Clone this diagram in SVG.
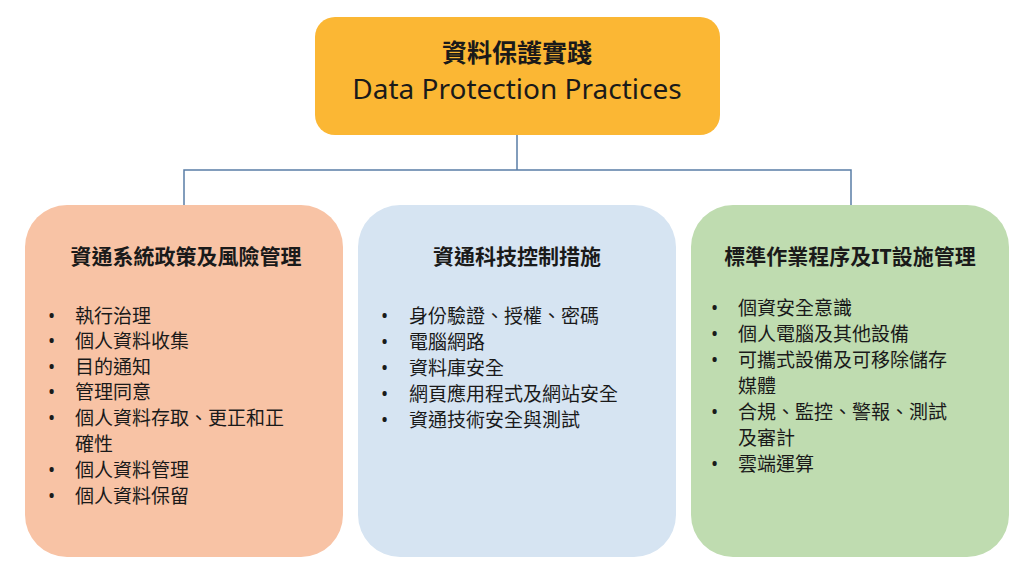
<svg xmlns="http://www.w3.org/2000/svg" width="1032" height="583" viewBox="0 0 1032 583">
<style>
text{font-family:"Noto Sans","Noto Sans CJK TC",sans-serif;fill:#1a1a1a}
.h{font-size:21px;font-weight:bold;text-anchor:middle}
.b{font-size:19px}
.c{stroke:#5a7ea6;stroke-width:1.5;fill:none}
</style>
<rect width="1032" height="583" fill="#fff"/>
<g id="connectors">
<path class="c" d="M517 135V170M184 205V170H851V205"/>
</g>
<g id="root">
<rect x="315" y="17" width="405" height="118" rx="20" fill="#fbb734"/>
<text x="517" y="62" text-anchor="middle" style="font-size:25px;font-weight:bold">資料保護實踐</text>
<text x="517" y="99" text-anchor="middle" style="font-size:28px">Data Protection Practices</text>
</g>
<g id="left">
<rect x="25" y="205" width="318" height="352" rx="42" fill="#f8c3a5"/>
<text class="h" x="186" y="264">資通系統政策及風險管理</text>
<g class="b">
<text x="48" y="323">•</text><text x="75" y="323">執行治理</text>
<text x="48" y="348">•</text><text x="75" y="348">個人資料收集</text>
<text x="48" y="374">•</text><text x="75" y="374">目的通知</text>
<text x="48" y="399">•</text><text x="75" y="399">管理同意</text>
<text x="48" y="425">•</text><text x="75" y="425">個人資料存取、更正和正</text>
<text x="75" y="451">確性</text>
<text x="48" y="477">•</text><text x="75" y="477">個人資料管理</text>
<text x="48" y="503">•</text><text x="75" y="503">個人資料保留</text>
</g>
</g>
<g id="middle">
<rect x="358" y="205" width="318" height="352" rx="42" fill="#d6e4f2"/>
<text class="h" x="517" y="264">資通科技控制措施</text>
<g class="b">
<text x="381" y="323">•</text><text x="409" y="323">身份驗證、授權、密碼</text>
<text x="381" y="349">•</text><text x="409" y="349">電腦網路</text>
<text x="381" y="375">•</text><text x="409" y="375">資料庫安全</text>
<text x="381" y="401">•</text><text x="409" y="401">網頁應用程式及網站安全</text>
<text x="381" y="427">•</text><text x="409" y="427">資通技術安全與測試</text>
</g>
</g>
<g id="right">
<rect x="691" y="205" width="318" height="352" rx="42" fill="#bfdcb0"/>
<text class="h" x="850" y="264">標準作業程序及IT設施管理</text>
<g class="b">
<text x="711" y="315">•</text><text x="738" y="315">個資安全意識</text>
<text x="711" y="341">•</text><text x="738" y="341">個人電腦及其他設備</text>
<text x="711" y="367">•</text><text x="738" y="367">可攜式設備及可移除儲存</text>
<text x="738" y="393">媒體</text>
<text x="711" y="419">•</text><text x="738" y="419">合規、監控、警報、測試</text>
<text x="738" y="445">及審計</text>
<text x="711" y="471">•</text><text x="738" y="471">雲端運算</text>
</g>
</g>
</svg>
